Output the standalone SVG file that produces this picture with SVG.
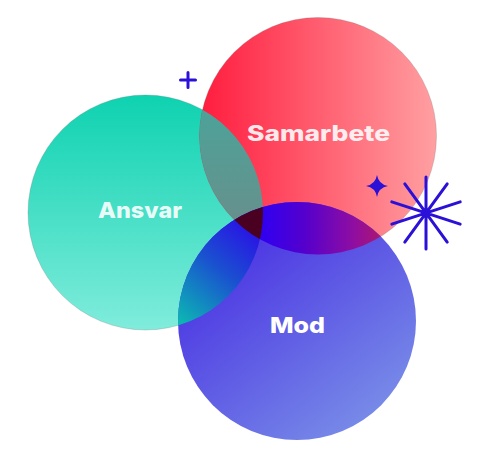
<svg xmlns="http://www.w3.org/2000/svg" width="502" height="454" viewBox="0 0 502 454">
  <defs>
    <style>
      .lbl { font-family: "Inter", "Open Sans", "Liberation Sans", sans-serif; font-weight: 800; fill: #ffffff; text-anchor: middle; }
      .deco { stroke: #2b10d8; stroke-width: 3; stroke-linecap: round; fill: none; }
      .edge { stroke: rgba(110,110,110,0.25); stroke-width: 1; }
    </style>
    <linearGradient id="gT" x1="0" y1="95" x2="0" y2="330" gradientUnits="userSpaceOnUse">
      <stop offset="0" stop-color="#0ed2b0"/>
      <stop offset="1" stop-color="#80ecdc"/>
    </linearGradient>
    <linearGradient id="gR" x1="200" y1="0" x2="437" y2="0" gradientUnits="userSpaceOnUse">
      <stop offset="0" stop-color="#ff1c3e"/>
      <stop offset="1" stop-color="#ffa0a2"/>
    </linearGradient>
    <linearGradient id="gB" x1="210" y1="215" x2="380" y2="430" gradientUnits="userSpaceOnUse">
      <stop offset="0" stop-color="#4426e2"/>
      <stop offset="1" stop-color="#7a90e8"/>
    </linearGradient>
    <linearGradient id="gTR" x1="0" y1="100" x2="0" y2="235" gradientUnits="userSpaceOnUse">
      <stop offset="0" stop-color="#4aa49a"/>
      <stop offset="1" stop-color="#6a8e8b"/>
    </linearGradient>
    <linearGradient id="gRB" x1="262" y1="0" x2="385" y2="0" gradientUnits="userSpaceOnUse">
      <stop offset="0" stop-color="#3000f0"/>
      <stop offset="0.35" stop-color="#5500cc"/>
      <stop offset="0.75" stop-color="#900ea0"/>
      <stop offset="1" stop-color="#b0186a"/>
    </linearGradient>
    <linearGradient id="gTB" x1="260" y1="232" x2="182" y2="322" gradientUnits="userSpaceOnUse">
      <stop offset="0" stop-color="#2a10e6"/>
      <stop offset="0.45" stop-color="#1a50d0"/>
      <stop offset="1" stop-color="#0cb4b4"/>
    </linearGradient>
    <clipPath id="cT"><circle cx="145.5" cy="212.5" r="117.5"/></clipPath>
    <clipPath id="cR"><circle cx="318" cy="136" r="118.5"/></clipPath>
  </defs>

  <rect width="502" height="454" fill="#ffffff"/>

  <g id="node-ansvar">
    <circle class="edge" cx="145.5" cy="212.5" r="117.5" fill="url(#gT)"/>
    <text class="lbl" x="140" y="218" font-size="22" textLength="84" lengthAdjust="spacingAndGlyphs" fill-opacity="0.9">Ansvar</text>
  </g>
  <g id="node-samarbete">
    <circle class="edge" cx="318" cy="136" r="118.5" fill="url(#gR)"/>
    <text class="lbl" x="318.5" y="141" font-size="21" textLength="143" lengthAdjust="spacingAndGlyphs" fill-opacity="0.9">Samarbete</text>
  </g>
  <g id="node-mod">
    <circle cx="297" cy="321" r="119" fill="url(#gB)"/>
    <text class="lbl" x="297.5" y="333" font-size="22" textLength="55" lengthAdjust="spacingAndGlyphs">Mod</text>
  </g>

  <g id="overlaps">
    <g clip-path="url(#cR)">
      <circle cx="145.5" cy="212.5" r="117.5" fill="url(#gTR)"/>
      <circle cx="297" cy="321" r="119" fill="url(#gRB)"/>
    </g>
    <g clip-path="url(#cT)">
      <circle cx="297" cy="321" r="119" fill="url(#gTB)"/>
    </g>
    <g clip-path="url(#cR)">
      <g clip-path="url(#cT)">
        <circle cx="297" cy="321" r="119" fill="#4a0020"/>
      </g>
    </g>
  </g>

  <g id="decorations">
    <path class="deco" d="M188,72.5 V87.5 M180.5,80 H195.5"/>
    <path d="M377,175 Q378.6,184.4 388,186 Q378.6,187.6 377,197 Q375.4,187.6 366,186 Q375.4,184.4 377,175 Z" fill="#2b10d8"/>
    <path class="deco" d="M426,177 L426,249 M447.2,183.9 L404.8,242.1 M460.2,201.9 L391.8,224.1 M460.2,224.1 L391.8,201.9 M447.2,242.1 L404.8,183.9"/>
  </g>
</svg>
